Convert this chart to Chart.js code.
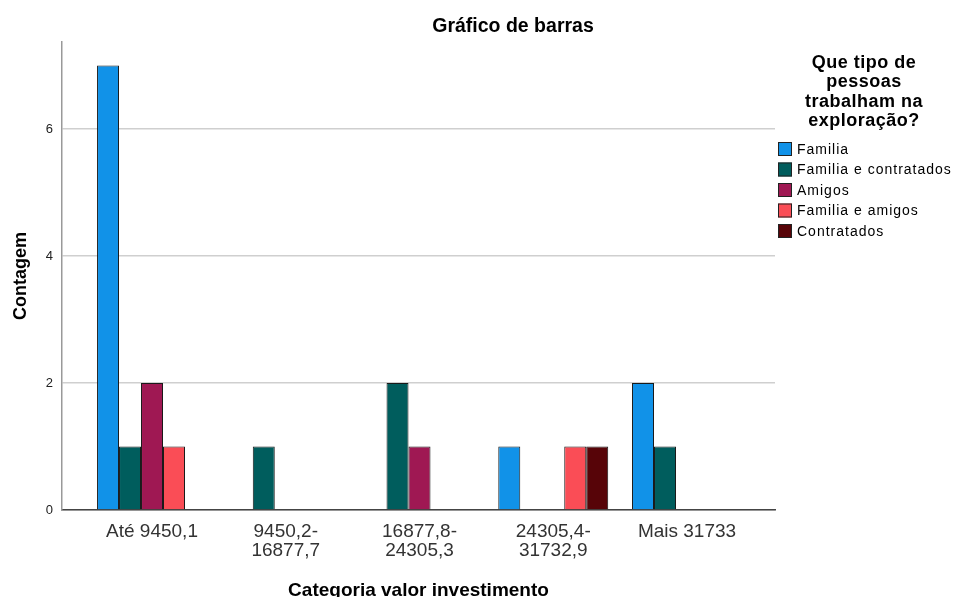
<!DOCTYPE html>
<html>
<head>
<meta charset="utf-8">
<script src="https://cdn.jsdelivr.net/npm/chart.js@4"></script>
<style>
  html, body { margin: 0; padding: 0; background: #fff; }
  #wrap { width: 953px; height: 597px; }
</style>
</head>
<body>
<div id="wrap"><canvas id="chart" width="953" height="597"></canvas></div>
<script>
// Categories (investment value bands)
const categories = ['Até 9450,1', '9450,2-\n16877,7', '16877,8-\n24305,3', '24305,4-\n31732,9', 'Mais 31733'];

// Series (counts per band), null = no bar
const familia = [7, null, null, 1, 2];
const familiaContratados = [1, 1, 2, null, 1];
const amigos = [2, null, 1, null, null];
const familiaAmigos = [1, null, null, 1, null];
const contratados = [null, null, null, 1, null];

const seriesNames = ['Familia', 'Familia e contratados', 'Amigos', 'Familia e amigos', 'Contratados'];
const seriesColors = ['#1192e8', '#005d5d', '#9f1853', '#fa4d56', '#570408'];
const yTicks = [0, 2, 4, 6];

const legendTitle = ['Que tipo de', 'pessoas', 'trabalham na', 'exploração?'];
const FONT = "'Liberation Sans', Arial, sans-serif";

// Turn a plain array into {x, y} points on the linear category axis
function toPoints(arr) {
    return arr.map((v, i) => ({ x: i, y: v }));
}

const allSeries = [familia, familiaContratados, amigos, familiaAmigos, contratados];

// Draws the chart title and the legend block on the right
const decorations = {
    id: 'decorations',
    afterDraw(chart) {
        const ctx = chart.ctx;
        ctx.save();
        ctx.fillStyle = '#000';
        ctx.textAlign = 'center';
        ctx.textBaseline = 'middle';
        ctx.font = 'bold 19.5px ' + FONT;
        ctx.fillText('Gráfico de barras', 513, 27);

        ctx.font = 'bold 18px ' + FONT;
        ctx.letterSpacing = '0.5px';
        legendTitle.forEach((line, i) => {
            ctx.fillText(line, 864, 63 + i * 19.3);
        });

        ctx.textAlign = 'left';
        ctx.font = '14px ' + FONT;
        ctx.letterSpacing = '1px';
        seriesNames.forEach((name, i) => {
            const y = 149 + i * 20.5;
            ctx.fillStyle = seriesColors[i];
            ctx.fillRect(778, y - 7, 14, 14);
            ctx.strokeStyle = '#222';
            ctx.lineWidth = 1;
            ctx.strokeRect(778.5, y - 6.5, 13, 13);
            ctx.fillStyle = '#000';
            ctx.fillText(name, 797, y + 1);
        });
        ctx.restore();
    }
};

const ctx = document.getElementById('chart').getContext('2d');
new Chart(ctx, {
    type: 'bar',
    data: {
        datasets: allSeries.map((arr, i) => ({
            label: seriesNames[i],
            data: toPoints(arr),
            backgroundColor: seriesColors[i],
            borderColor: '#1a1a1a',
            borderWidth: 1,
            categoryPercentage: 0.822,
            barPercentage: 1
        }))
    },
    options: {
        responsive: false,
        animation: false,
        layout: { padding: { top: 42, right: 178, left: 0, bottom: 0 } },
        plugins: {
            legend: { display: false },
            tooltip: { enabled: false }
        },
        scales: {
            x: {
                type: 'linear',
                offset: false,
                min: -0.673,
                max: 4.658,
                afterBuildTicks: axis => { axis.ticks = categories.map((c, i) => ({ value: i })); },
                afterFit: axis => { axis.height = 87; },
                grid: { display: false, drawTicks: false, offset: false },
                border: { display: true, color: '#444', width: 1.5 },
                ticks: {
                    padding: 12,
                    autoSkip: false,
                    maxRotation: 0,
                    color: '#333',
                    font: { family: FONT, size: 19, lineHeight: 1.02 },
                    callback: v => categories[v] ? categories[v].split('\n') : ''
                },
                title: {
                    display: true,
                    text: 'Categoria valor investimento',
                    color: '#000',
                    font: { family: FONT, size: 19, weight: 'bold', lineHeight: 1 },
                    padding: { top: 0, bottom: -3 }
                }
            },
            y: {
                min: 0,
                max: 7.37,
                afterBuildTicks: axis => { axis.ticks = yTicks.map(v => ({ value: v })); },
                afterFit: axis => { axis.width = 62; },
                grid: { color: '#cfcfcf', lineWidth: 1.5, drawTicks: false },
                border: { display: true, color: '#999', width: 1.5 },
                ticks: {
                    padding: 9,
                    color: '#222',
                    font: { family: FONT, size: 13 }
                },
                title: {
                    display: true,
                    text: 'Contagem',
                    color: '#000',
                    font: { family: FONT, size: 18, weight: 'bold' },
                    padding: { top: 10, bottom: 0 }
                }
            }
        }
    },
    plugins: [decorations]
});
</script>
</body>
</html>
